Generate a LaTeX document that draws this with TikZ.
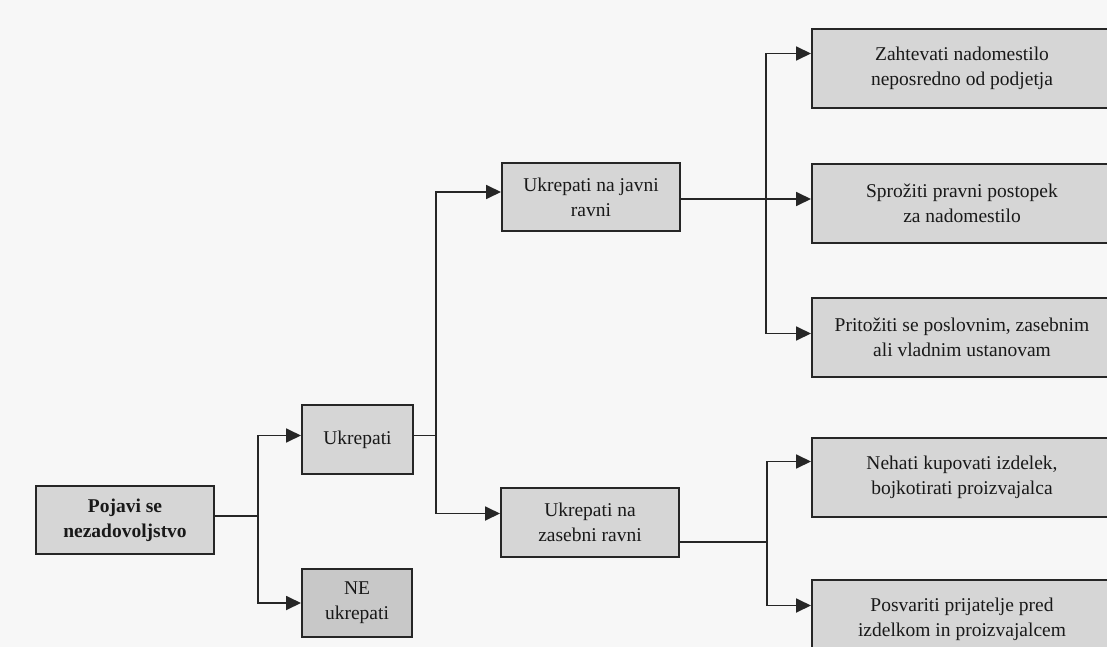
\documentclass[tikz,border=0pt]{standalone}
\usepackage{fontspec}
\setmainfont{Liberation Serif}
\usetikzlibrary{arrows.meta}
\definecolor{linecolor}{HTML}{262626}
\definecolor{boxcolor}{HTML}{D6D6D6}
\definecolor{nocolor}{HTML}{C8C8C8}
\tikzset{
  stepbox/.style={draw=linecolor,line width=2pt,fill=boxcolor,text=black!90,
    align=center,inner sep=0pt,font=\fontsize{19.5}{25}\selectfont},
  arr/.style={draw=linecolor,line width=1.8pt,-{Triangle[length=15pt,width=14pt]}},
  conn/.style={draw=linecolor,line width=1.8pt}
}
\begin{document}
\begin{tikzpicture}[x=1pt,y=-1pt]
 \clip (0,0) rectangle (1107,647);
 \fill [black!3] (0,0) rectangle (1107,647);
 \node [stepbox,minimum width=178pt,minimum height=68pt,font=\fontsize{19.5}{25}\selectfont\bfseries] (root) at (125,520) {Pojavi se\\ nezadovoljstvo};
 \node [stepbox,minimum width=111pt,minimum height=69pt] (ukr) at (357.5,439.5) {Ukrepati};
 \node [stepbox,fill=nocolor,minimum width=110pt,minimum height=68pt] (ne) at (357,603) {NE\\ ukrepati};
 \node [stepbox,minimum width=178pt,minimum height=68pt] (javni) at (591,197) {Ukrepati na javni\\ ravni};
 \node [stepbox,minimum width=178pt,minimum height=69pt] (zas) at (590,522.5) {Ukrepati na\\ zasebni ravni};
 \node [stepbox,minimum width=300pt,minimum height=79pt] (zaht) at (962,68.5) {Zahtevati nadomestilo\\ neposredno od podjetja};
 \node [stepbox,minimum width=300pt,minimum height=79pt] (spro) at (962,203.5) {Sprožiti pravni postopek\\ za nadomestilo};
 \node [stepbox,minimum width=300pt,minimum height=79pt] (prit) at (962,337.5) {Pritožiti se poslovnim, zasebnim\\ ali vladnim ustanovam};
 \node [stepbox,minimum width=300pt,minimum height=79pt] (neha) at (962,477.5) {Nehati kupovati izdelek,\\ bojkotirati proizvajalca};
 \node [stepbox,minimum width=300pt,minimum height=79pt] (posv) at (962,619.5) {Posvariti prijatelje pred\\ izdelkom in proizvajalcem};
 \draw [conn] ([yshift=4pt]root.east) -- ++(43,0) coordinate (j1);
 \draw [arr] (j1) |- ([yshift=4pt]ukr.west);
 \draw [arr] (j1) |- (ne.west);
 \draw [conn] ([yshift=4pt]ukr.east) -- ++(22,0) coordinate (j2);
 \draw [arr] (j2) |- ([yshift=5pt]javni.west);
 \draw [arr] (j2) |- ([yshift=9pt]zas.west);
 \draw [arr] ([yshift=-2pt]javni.east) -- ([yshift=-2pt]javni.east -| spro.west);
 \draw [conn] ([yshift=15pt]zaht.west) ++(-45,0) coordinate (j3) -- ++(0,280);
 \draw [arr] (j3) -- ([yshift=15pt]zaht.west);
 \draw [arr] (j3 |- prit.west) ++(0,-4) -- ([yshift=4pt]prit.west);
 \draw [conn] ([yshift=-19.5pt]zas.east) -- ++(87,0) coordinate (j4);
 \draw [arr] (j4) |- ([yshift=16pt]neha.west);
 \draw [arr] (j4) |- ([yshift=14pt]posv.west);
\end{tikzpicture}
\end{document}
